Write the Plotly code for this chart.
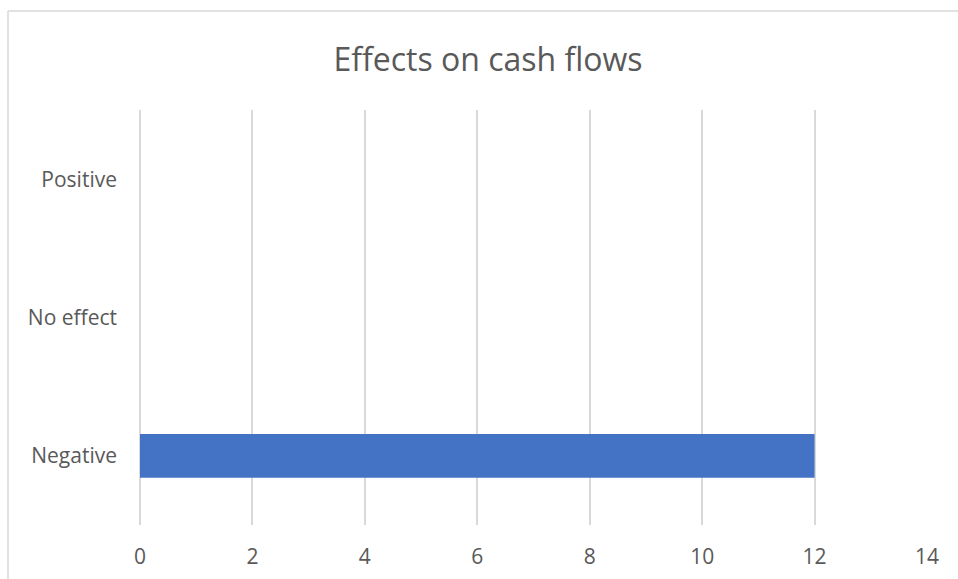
import plotly.graph_objects as go

# Survey responses: effect on cash flows
categories = ["Negative", "No effect", "Positive"]
counts = [12, 0, 0]
x_ticks = [0, 2, 4, 6, 8, 10, 12, 14]

W, H = 958, 579
ML, MR, MT, MB = 140, 31, 110, 54
pw = W - ML - MR
ph = H - MT - MB

grey_text = "#595959"
grid = "#d9d9d9"
font_family = "Open Sans, Noto Sans, sans-serif"

fig = go.Figure(
    go.Bar(
        y=categories,
        x=counts,
        orientation="h",
        marker=dict(color="#4472C4", line=dict(width=0)),
        hoverinfo="x+y",
    )
)

# chart-area frame (top and left edges fall inside the visible page)
def px_x(v):
    return (v - ML) / pw

def px_y(v):
    return (H - MB - v) / ph

frame = dict(color=grid, width=1.5)
fig.add_shape(type="line", xref="paper", yref="paper",
              x0=px_x(8), x1=px_x(W + 5), y0=px_y(11), y1=px_y(11), line=frame)
fig.add_shape(type="line", xref="paper", yref="paper",
              x0=px_x(8), x1=px_x(8), y0=px_y(11), y1=px_y(H + 5), line=frame)

fig.update_layout(
    width=W,
    height=H,
    margin=dict(l=ML, r=MR, t=MT, b=MB, pad=0),
    paper_bgcolor="white",
    plot_bgcolor="white",
    showlegend=False,
    bargap=0.684,
    font=dict(family=font_family, color=grey_text, size=21),
    title=dict(
        text="Effects on cash flows",
        x=488 / W,
        xanchor="center",
        y=1 - 60 / H,
        yanchor="middle",
        font=dict(family=font_family, size=32, color=grey_text),
    ),
    xaxis=dict(
        range=[0, 14],
        tickvals=x_ticks,
        ticktext=[str(t) for t in x_ticks],
        showgrid=True,
        gridcolor=grid,
        gridwidth=1.5,
        zeroline=True,
        zerolinecolor=grid,
        zerolinewidth=1.5,
        showline=False,
        ticks="",
        ticklabelstandoff=17,
        automargin=False,
        tickfont=dict(size=21, color=grey_text),
        fixedrange=True,
    ),
    yaxis=dict(
        categoryorder="array",
        categoryarray=categories,
        showgrid=False,
        zeroline=False,
        showline=False,
        ticks="",
        ticklabelstandoff=22,
        automargin=False,
        tickfont=dict(size=21, color=grey_text),
        fixedrange=True,
    ),
)

fig.write_html("out.html")
